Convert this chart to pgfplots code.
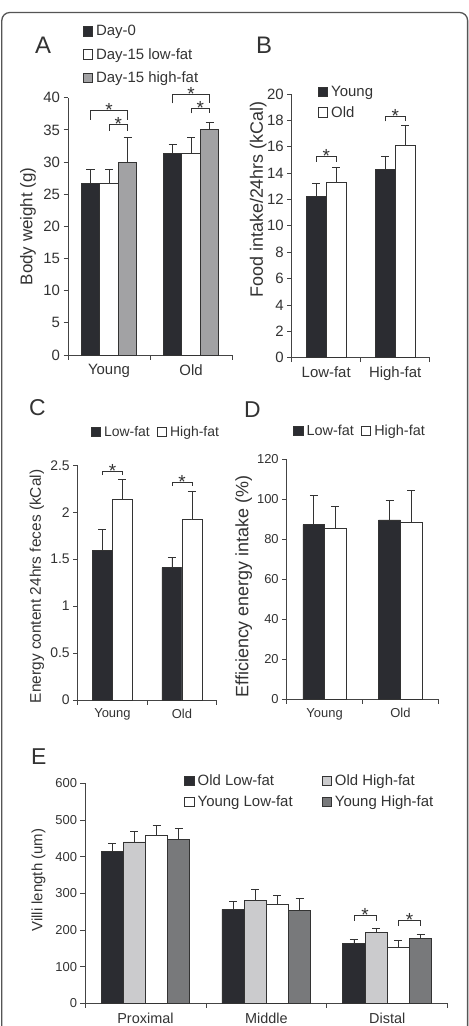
\documentclass[border=0pt]{standalone}
\usepackage{pgfplots}
\pgfplotsset{compat=1.18}
\usepackage{fontspec}
\setmainfont{Liberation Sans}

\definecolor{inkgray}{HTML}{333333}
\definecolor{axisgray}{HTML}{444444}
\definecolor{framegray}{HTML}{555555}
\definecolor{bardark}{HTML}{2B2C31}
\definecolor{bargrey}{HTML}{A2A2A4}
\definecolor{barlight}{HTML}{CBCBCD}
\definecolor{barmid}{HTML}{78797B}

\newcommand{\fs}[1]{\fontsize{#1}{#1}\selectfont}

% significance bracket: x1, x2, y, drop, star x
\newcommand{\sigbracket}[5]{%
  \draw[inkgray, line width=0.8bp] ([yshift=-#4]axis cs:#1,#3) -- (axis cs:#1,#3)
     -- (axis cs:#2,#3) -- ([yshift=-#4]axis cs:#2,#3);
  \node[font=\fs{19}, text=inkgray, anchor=base, inner sep=0pt]
     at ([yshift=-6.2bp]axis cs:#5,#3) {*};
}
% category name under the x axis: x, text, size, drop
\newcommand{\catlabel}[4]{%
  \node[font=\fs{#3}, text=inkgray, anchor=north, inner sep=0pt]
     at ([yshift=-#4]axis cs:#1,0) {#2};
}

\pgfplotsset{
  panel/.style={
    scale only axis, anchor=south west, clip=false,
    axis x line*=bottom, axis y line*=left,
    axis line style={draw=axisgray, line width=0.8bp},
    every tick/.style={draw=axisgray, line width=0.8bp},
    tick align=outside, major tick length=4.5bp, minor tick length=4.5bp,
    major x tick style={draw=none}, xticklabels={},
    ybar=0pt, ymin=0,
    /pgf/number format/assume math mode=true,
    ticklabel style={text=inkgray},
    ylabel style={text=inkgray, anchor=center},
    every axis plot/.append style={line width=0.8bp, draw=inkgray},
    error bars/y dir=plus, error bars/y explicit,
    error bars/error bar style={line width=0.8bp, draw=inkgray},
    error bars/error mark options={rotate=90, mark size=4bp, line width=0.8bp, draw=inkgray},
    legend image code/.code={\draw[##1, line width=0.8bp] (0bp,-4.6bp) rectangle (9.5bp,4.6bp);},
    legend style={draw=none, fill=none, inner sep=0pt, outer sep=0pt,
      column sep=2bp, row sep=6bp,
      nodes={inner sep=1bp, text=inkgray}},
    legend cell align=left,
  },
  dark/.style={fill=bardark},
  white/.style={fill=white},
  grey/.style={fill=bargrey},
  light/.style={fill=barlight},
  mid/.style={fill=barmid},
}

\begin{document}
\begin{tikzpicture}
\useasboundingbox (0,0) rectangle (469bp,-1026bp);
\fill[white] (0,0) rectangle (469bp,-1026bp);
\draw[framegray, line width=1.3bp, rounded corners=8bp]
  (1.8bp,-1040bp) -- (1.8bp,-12.5bp) -- (467.6bp,-12.5bp) -- (467.6bp,-1040bp);

% ---------------- A: body weight ----------------
\node[font=\fs{24}, text=inkgray, anchor=west, inner sep=0pt] at (35bp,-45bp) {A};
\begin{axis}[panel, at={(68bp,-355bp)}, width=164bp, height=257.3bp,
  xmin=-0.5, xmax=1.5, xtick={0,1},
  minor xtick={-0.5,0.5,1.5},
  ymax=40, ytick={0,5,...,40}, bar width=18.5bp,
  yticklabel style={font=\fs{15}},
  ylabel={Body weight (g)},
  ylabel style={font=\fs{17}, at={(axis description cs:-0.244,0.5)}},
  legend style={at={(axis description cs:0.09,1.285)}, anchor=north west,
    row sep=9bp, nodes={font=\fs{15}}},
]
\addplot[dark] coordinates {(0,26.7) +- (0,2.2) (1,31.3) +- (0,1.5)};
\addplot[white] coordinates {(0,26.7) +- (0,2.2) (1,31.3) +- (0,2.5)};
\addplot[grey] coordinates {(0,29.9) +- (0,3.9) (1,35.0) +- (0,1.2)};
\legend{Day-0, Day-15 low-fat, Day-15 high-fat}
\catlabel{0}{Young}{15}{9.3bp}
\catlabel{1}{Old}{15}{9.3bp}
\sigbracket{-0.2256}{0.2256}{38.1}{10bp}{0}
\sigbracket{0}{0.2256}{35.9}{6.5bp}{0.1128}
\sigbracket{0.7744}{1.2256}{40.5}{9bp}{1}
\sigbracket{1}{1.2256}{38.4}{5.5bp}{1.1128}
\end{axis}

% ---------------- B: food intake ----------------
\node[font=\fs{24}, text=inkgray, anchor=west, inner sep=0pt] at (256bp,-45bp) {B};
\begin{axis}[panel, at={(291.7bp,-357.7bp)}, width=138bp, height=263.7bp,
  xmin=-0.5, xmax=1.5, xtick={0,1},
  minor xtick={-0.5,0.5,1.5},
  ymax=20, ytick={0,2,...,20}, bar width=20bp,
  yticklabel style={font=\fs{15}},
  ylabel={Food intake/24hrs (kCal)},
  ylabel style={font=\fs{18}, at={(axis description cs:-0.242,0.6)}},
  legend style={at={(axis description cs:0.19,1.034)}, anchor=north west,
    row sep=6.5bp, nodes={font=\fs{15}}},
]
\addplot[dark] coordinates {(0,12.2) +- (0,1.0) (1,14.3) +- (0,1.0)};
\addplot[white] coordinates {(0,13.3) +- (0,1.1) (1,16.1) +- (0,1.5)};
\legend{Young, Old}
\catlabel{0}{Low-fat}{15}{9bp}
\catlabel{1}{High-fat}{15}{9bp}
\sigbracket{-0.145}{0.145}{15.25}{5bp}{0}
\sigbracket{0.855}{1.145}{18.3}{5bp}{1}
\end{axis}

% ---------------- C: energy content of feces ----------------
\node[font=\fs{23}, text=inkgray, anchor=west, inner sep=0pt] at (29bp,-408bp) {C};
\begin{axis}[panel, at={(77.7bp,-700bp)}, width=139bp, height=234.7bp,
  xmin=-0.5, xmax=1.5, xtick={0,1},
  minor xtick={-0.5,0.5,1.5},
  ymax=2.5, ytick={0,0.5,...,2.5}, bar width=20bp,
  yticklabel style={font=\fs{14}},
  ylabel={Energy content 24hrs feces (kCal)},
  ylabel style={font=\fs{15.5}, at={(axis description cs:-0.293,0.484)}},
  legend columns=2,
  legend style={at={(axis description cs:0.094,1.172)}, anchor=north west,
    nodes={font=\fs{14}},
    /tikz/every even column/.append style={column sep=6bp}},
]
\addplot[dark] coordinates {(0,1.59) +- (0,0.23) (1,1.41) +- (0,0.11)};
\addplot[white] coordinates {(0,2.14) +- (0,0.21) (1,1.92) +- (0,0.30)};
\legend{Low-fat, High-fat}
\catlabel{0}{Young}{13}{8.8bp}
\catlabel{1}{Old}{13}{8.8bp}
\sigbracket{-0.144}{0.144}{2.44}{4.3bp}{0}
\sigbracket{0.856}{1.144}{2.32}{4bp}{1}
\end{axis}

% ---------------- D: efficiency of energy intake ----------------
\node[font=\fs{23}, text=inkgray, anchor=west, inner sep=0pt] at (244bp,-410bp) {D};
\begin{axis}[panel, at={(286.7bp,-699.3bp)}, width=151.6bp, height=240bp,
  xmin=-0.5, xmax=1.5, xtick={0,1},
  minor xtick={-0.5,0.5,1.5},
  ymax=120, ytick={0,20,...,120}, bar width=21.7bp,
  yticklabel style={font=\fs{13}},
  ylabel={Efficiency energy intake (\%)},
  ylabel style={font=\fs{18}, at={(axis description cs:-0.284,0.47)}},
  legend columns=2,
  legend style={at={(axis description cs:0.0435,1.147)}, anchor=north west,
    nodes={font=\fs{14.5}},
    /tikz/every even column/.append style={column sep=6bp}},
]
\addplot[dark] coordinates {(0,87.3) +- (0,14.5) (1,89.7) +- (0,9.6)};
\addplot[white] coordinates {(0,85.3) +- (0,11.4) (1,88.3) +- (0,16.2)};
\legend{Low-fat, High-fat}
\catlabel{0}{Young}{13}{8.8bp}
\catlabel{1}{Old}{13}{8.8bp}
\end{axis}

% ---------------- E: villi length ----------------
\node[font=\fs{23}, text=inkgray, anchor=west, inner sep=0pt] at (31bp,-757bp) {E};
\begin{axis}[panel, at={(85bp,-1003.3bp)}, width=362.7bp, height=220bp,
  xmin=-0.5, xmax=2.5, xtick={0,1,2},
  minor xtick={-0.5,0.5,1.5,2.5},
  ymax=600, ytick={0,100,...,600}, bar width=22.2bp,
  yticklabel style={font=\fs{13}},
  ylabel={Villi length (um)},
  ylabel style={font=\fs{15}, at={(axis description cs:-0.128,0.56)}},
  legend columns=2,
  legend style={at={(axis description cs:0.274,1.042)}, anchor=north west,
    nodes={font=\fs{15}}, row sep=6bp,
    /tikz/every even column/.append style={column sep=28bp}},
]
\addplot[dark] coordinates {(0,413) +- (0,22) (1,256) +- (0,21) (2,163) +- (0,10)};
\addplot[light] coordinates {(0,440) +- (0,30) (1,281) +- (0,31) (2,193) +- (0,12)};
\addplot[white] coordinates {(0,459) +- (0,25) (1,269) +- (0,26) (2,153) +- (0,19)};
\addplot[mid] coordinates {(0,446) +- (0,31) (1,254) +- (0,32) (2,177) +- (0,11)};
\legend{Old Low-fat, Old High-fat, Young Low-fat, Young High-fat}
\catlabel{0}{Proximal}{14.5}{9.5bp}
\catlabel{1}{Middle}{14.5}{9.5bp}
\catlabel{2}{Distal}{14.5}{9.5bp}
\sigbracket{1.7246}{1.9082}{241}{6bp}{1.8164}
\sigbracket{2.0918}{2.2754}{227}{6bp}{2.1836}
\end{axis}
\end{tikzpicture}
\end{document}
